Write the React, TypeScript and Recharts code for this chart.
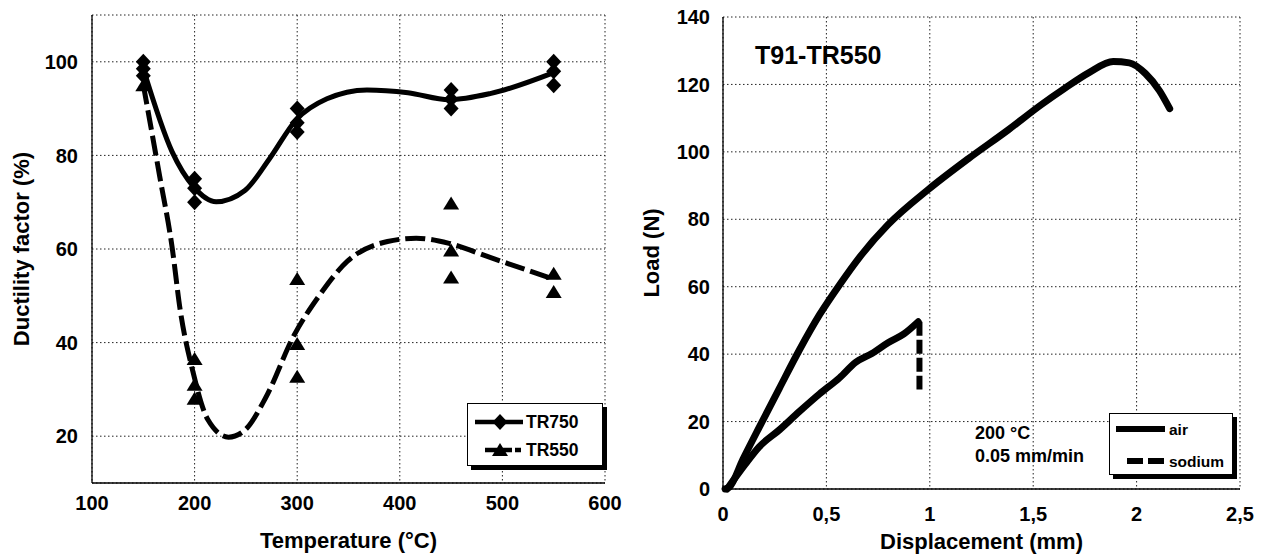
import React from "react";
import {
    ComposedChart,
    LineChart,
    Line,
    Scatter,
    XAxis,
    YAxis,
    CartesianGrid,
    Legend,
    Label
} from "recharts";

const FONT = '"Liberation Sans", Arial, sans-serif';

// ---- left panel: ductility factor vs temperature ----
const tempTicks = [100, 200, 300, 400, 500, 600];
const ductTicks = [20, 40, 60, 80, 100];

// measured points
const tr750Temp = [150, 150, 150, 200, 200, 200, 300, 300, 300, 450, 450, 450, 550, 550, 550];
const tr750Duct = [100, 98.5, 97, 75, 73, 70, 90, 87, 85, 94, 92, 90, 100, 98, 95];
const tr550Temp = [150, 200, 200, 200, 300, 300, 300, 450, 450, 450, 550, 550];
const tr550Duct = [95, 36.5, 31, 28, 53.6, 39.7, 32.7, 69.7, 59.7, 53.9, 54.7, 50.8];

// fitted curves
const tr750FitTemp = [150, 178, 199, 221, 249, 273, 299, 329, 368, 408, 448, 488, 550];
const tr750FitDuct = [98.5, 80.8, 73.3, 70.1, 72.5, 79.3, 87.6, 92.1, 94, 93.4, 91.9, 93.2, 97.7];
const tr550FitTemp = [150, 166, 178, 186, 198, 213, 233, 249, 269, 297, 321, 349, 388, 416, 448, 488, 548];
const tr550FitDuct = [95.1, 75.5, 60.5, 46.9, 34.1, 23.5, 19.8, 21.3, 28.1, 41.6, 49.9, 57.4, 61.6, 62.3, 61.2, 58.2, 53.7];

// ---- right panel: load vs displacement ----
const dispTicks = [0, 0.5, 1, 1.5, 2, 2.5];
const loadTicks = [0, 20, 40, 60, 80, 100, 120, 140];

const airDisp = [0.01, 0.03, 0.097, 0.175, 0.272, 0.37, 0.467, 0.564, 0.661, 0.798, 0.992, 1.187, 1.381, 1.537, 1.654, 1.77, 1.887, 1.965, 2.043, 2.111, 2.16];
const airLoad = [0, 0.5, 8.9, 18.3, 29.8, 41.3, 51.7, 60.6, 68.8, 78.4, 88.8, 98, 106.6, 113.9, 118.9, 123.5, 126.8, 126.4, 123.2, 118.1, 112.8];
const sodiumDisp = [0.02, 0.107, 0.175, 0.272, 0.37, 0.467, 0.564, 0.642, 0.72, 0.798, 0.875, 0.944];
const sodiumLoad = [0, 7.3, 12.5, 17.5, 23, 28.2, 33, 37.6, 40.2, 43.4, 46, 49.6];
const sodiumDropDisp = [0.95, 0.95];
const sodiumDropLoad = [49.6, 29.5];

const zip = (xs: number[], ys: number[]) => xs.map((x, i) => ({ x, y: ys[i] }));

const tr750Points = zip(tr750Temp, tr750Duct);
const tr550Points = zip(tr550Temp, tr550Duct);
const tr750Fit = zip(tr750FitTemp, tr750FitDuct);
const tr550Fit = zip(tr550FitTemp, tr550FitDuct);
const airData = zip(airDisp, airLoad);
const sodiumData = zip(sodiumDisp, sodiumLoad);
const sodiumDropData = zip(sodiumDropDisp, sodiumDropLoad);

const titleProps = { fill: "#000", fontSize: 22, fontWeight: 700, fontFamily: FONT };

const commaFmt = (v: number) => String(v).replace(".", ",");

// bold tick labels
const XTick = (fmt: (v: number) => string) => (props: any) => (
    <text x={props.x} y={props.y} dy="0.71em" textAnchor="middle" fill="#000" fontSize={20} fontWeight={700} fontFamily={FONT}>
        {fmt(props.payload.value)}
    </text>
);

const YTick = (props: any) => (
    <text x={props.x} y={props.y} dy="0.36em" textAnchor="end" fill="#000" fontSize={20} fontWeight={700} fontFamily={FONT}>
        {props.payload.value}
    </text>
);

const Diamond = ({ cx, cy }: any) => (
    <polygon points={`${cx},${cy - 8} ${cx + 7.5},${cy} ${cx},${cy + 8} ${cx - 7.5},${cy}`} fill="#000" />
);

const Triangle = ({ cx, cy }: any) => (
    <polygon points={`${cx},${cy - 7} ${cx + 8},${cy + 6} ${cx - 8},${cy + 6}`} fill="#000" />
);

// rotated y axis title centred on the plot height
const yTitle = (text: string, x: number, fallbackY: number) => (props: any) => {
    const vb = props.viewBox;
    const cy = vb && vb.height ? vb.y + vb.height / 2 : fallbackY;
    return (
        <text
            x={x}
            y={cy}
            transform={`rotate(-90 ${x} ${cy})`}
            textAnchor="middle"
            dominantBaseline="central"
            {...titleProps}
        >
            {text}
        </text>
    );
};

const boxStyle: React.CSSProperties = {
    position: "relative",
    boxSizing: "border-box",
    border: "1px solid #000",
    boxShadow: "4px 4px 0 #000",
    background: "#fff"
};

const legendText = { fill: "#000", fontWeight: 700, fontFamily: FONT };

const TempLegend = () => (
    <div style={{ ...boxStyle, width: 136, height: 63 }}>
        <svg width={136} height={63} style={{ position: "absolute", left: -1, top: -1 }}>
            <line x1={8} y1={19} x2={56} y2={19} stroke="#000" strokeWidth={4.5} />
            <Diamond cx={33} cy={19} />
            <text x={59} y={19} dominantBaseline="central" fontSize={17.5} {...legendText}>TR750</text>
            <line x1={18} y1={47} x2={54} y2={47} stroke="#000" strokeWidth={4.5} strokeDasharray="12 3" />
            <Triangle cx={33} cy={47} />
            <text x={59} y={47} dominantBaseline="central" fontSize={17.5} {...legendText}>TR550</text>
        </svg>
    </div>
);

const LoadLegend = () => (
    <div style={{ ...boxStyle, width: 124, height: 62 }}>
        <svg width={124} height={62} style={{ position: "absolute", left: -1, top: -1 }}>
            <line x1={7} y1={16} x2={56} y2={16} stroke="#000" strokeWidth={6} />
            <text x={60} y={16} dominantBaseline="central" fontSize={15.5} {...legendText}>air</text>
            <line x1={18} y1={48} x2={55} y2={48} stroke="#000" strokeWidth={6} strokeDasharray="16 5" />
            <text x={60} y={48} dominantBaseline="central" fontSize={15.5} {...legendText}>sodium</text>
        </svg>
    </div>
);

const noteStyle: React.CSSProperties = {
    position: "absolute",
    fontFamily: FONT,
    fontWeight: 700,
    color: "#000",
    lineHeight: 1,
    whiteSpace: "nowrap"
};

const border = { stroke: "#000", strokeWidth: 1.3 };

export default function App() {
    return (
        <div style={{ position: "absolute", left: 0, top: 0, width: 1269, height: 554, background: "#fff" }}>

            {/* Ductility factor vs temperature */}
            <div style={{ position: "absolute", left: 0, top: 0 }}>
                <ComposedChart width={640} height={554} margin={{ top: 15, right: 35, bottom: 0, left: 0 }}>
                    <CartesianGrid stroke="#222" strokeDasharray="1.5 2.5" />
                    <XAxis
                        type="number"
                        dataKey="x"
                        domain={[100, 600]}
                        ticks={tempTicks}
                        height={71}
                        tick={XTick(String)}
                        tickLine={false}
                        tickSize={0}
                        tickMargin={13}
                        axisLine={border}
                    >
                        <Label value="Temperature (°C)" position="insideBottom" offset={6} {...titleProps} />
                    </XAxis>
                    <YAxis
                        type="number"
                        dataKey="y"
                        domain={[10, 110]}
                        ticks={ductTicks}
                        width={92}
                        tick={YTick}
                        tickLine={false}
                        tickSize={0}
                        tickMargin={14}
                        axisLine={border}
                    >
                        <Label content={yTitle("Ductility factor (%)", 21, 249)} />
                    </YAxis>
                    <XAxis xAxisId="top" orientation="top" type="number" domain={[100, 600]} height={0} tick={false} tickLine={false} axisLine={border} />
                    <YAxis yAxisId="right" orientation="right" type="number" domain={[10, 110]} width={0} tick={false} tickLine={false} axisLine={border} />

                    <Line data={tr750Fit} dataKey="y" type="monotone" stroke="#000" strokeWidth={5} dot={false} activeDot={false} isAnimationActive={false} legendType="none" />
                    <Line data={tr550Fit} dataKey="y" type="monotone" stroke="#000" strokeWidth={5} strokeDasharray="20 6" dot={false} activeDot={false} isAnimationActive={false} legendType="none" />
                    <Scatter name="TR750" data={tr750Points} shape={(p: any) => <Diamond cx={p.cx} cy={p.cy} />} isAnimationActive={false} />
                    <Scatter name="TR550" data={tr550Points} shape={(p: any) => <Triangle cx={p.cx} cy={p.cy} />} isAnimationActive={false} />

                    <Legend
                        layout="vertical"
                        align="center"
                        verticalAlign="middle"
                        content={() => <TempLegend />}
                        wrapperStyle={{ left: 467, top: 403, width: 136, height: 63 }}
                    />
                </ComposedChart>
            </div>

            {/* Load vs displacement */}
            <div style={{ position: "absolute", left: 640, top: 0 }}>
                <LineChart width={629} height={554} margin={{ top: 17, right: 29, bottom: 0, left: 0 }}>
                    <CartesianGrid stroke="#222" strokeDasharray="1.5 2.5" />
                    <XAxis
                        type="number"
                        dataKey="x"
                        domain={[0, 2.5]}
                        ticks={dispTicks}
                        height={65}
                        tick={XTick(commaFmt)}
                        tickLine={false}
                        tickSize={0}
                        tickMargin={18}
                        axisLine={border}
                    >
                        <Label value="Displacement (mm)" position="insideBottom" offset={5} {...titleProps} />
                    </XAxis>
                    <YAxis
                        type="number"
                        dataKey="y"
                        domain={[0, 140]}
                        ticks={loadTicks}
                        width={83}
                        tick={YTick}
                        tickLine={false}
                        tickSize={0}
                        tickMargin={13}
                        axisLine={border}
                    >
                        <Label content={yTitle("Load (N)", 11, 253)} />
                    </YAxis>
                    <XAxis xAxisId="top" orientation="top" type="number" domain={[0, 2.5]} height={0} tick={false} tickLine={false} axisLine={border} />
                    <YAxis yAxisId="right" orientation="right" type="number" domain={[0, 140]} width={0} tick={false} tickLine={false} axisLine={border} />

                    <Line name="air" data={airData} dataKey="y" type="monotone" stroke="#000" strokeWidth={7} strokeLinecap="round" dot={false} activeDot={false} isAnimationActive={false} />
                    <Line name="sodium" data={sodiumData} dataKey="y" type="monotone" stroke="#000" strokeWidth={7} strokeLinecap="round" dot={false} activeDot={false} isAnimationActive={false} />
                    <Line data={sodiumDropData} dataKey="y" type="linear" stroke="#000" strokeWidth={6} strokeDasharray="14 4" dot={false} activeDot={false} isAnimationActive={false} legendType="none" />

                    <Legend
                        layout="vertical"
                        align="center"
                        verticalAlign="middle"
                        content={() => <LoadLegend />}
                        wrapperStyle={{ left: 469, top: 413, width: 124, height: 62 }}
                    />
                </LineChart>

                <div style={{ ...noteStyle, left: 115, top: 43, fontSize: 25 }}>T91-TR550</div>
                <div style={{ ...noteStyle, left: 335, top: 424, fontSize: 18 }}>200 °C</div>
                <div style={{ ...noteStyle, left: 335, top: 447, fontSize: 18 }}>0.05 mm/min</div>
            </div>
        </div>
    );
}
